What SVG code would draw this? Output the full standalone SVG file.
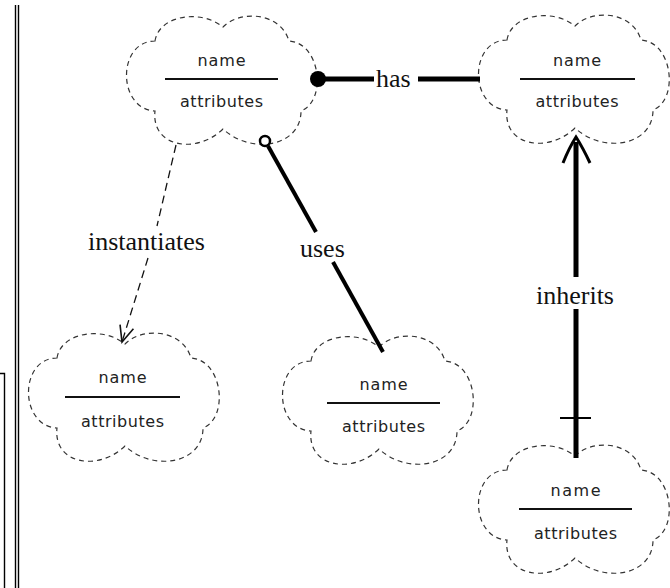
<svg xmlns="http://www.w3.org/2000/svg" width="670" height="588" viewBox="0 0 670 588">
<style>
.cloud{fill:none;stroke:#333;stroke-width:1.2;stroke-dasharray:5 4}
.sep{stroke:#111;stroke-width:1.8}
.nm{font-family:"DejaVu Sans",sans-serif;font-size:16px;fill:#222;text-anchor:middle}
.lbl{font-family:"Liberation Serif",serif;font-size:26px;fill:#111}
.thick{stroke:#000;stroke-width:5;fill:none}
.med{stroke:#000;stroke-width:4;fill:none}
.dash{stroke:#111;stroke-width:1.3;stroke-dasharray:8 5;fill:none}
.frame{stroke:#000;stroke-width:1.4;fill:none}
</style>
<defs>
<path id="cloudShape" d="M-66,-40 C-62,-66 -20,-72 2,-54 C20,-72 60,-68 68,-40 C100,-38 106,20 80,30 C80,66 30,74 2,48 C-25,74 -70,66 -66,30 C-104,28 -104,-40 -66,-40 Z"/>
<marker id="openArrow" viewBox="0 0 20 20" refX="18" refY="10" markerWidth="20" markerHeight="20" markerUnits="userSpaceOnUse" orient="auto">
<path d="M2,3 L18,10 L2,17" fill="none" stroke="#111" stroke-width="1.6"/>
</marker>
</defs>
<rect width="670" height="588" fill="#fff"/>
<g id="frame">
<line class="frame" x1="15.5" y1="5" x2="15.5" y2="588"/>
<line class="frame" x1="18.5" y1="5" x2="18.5" y2="588"/>
<path class="frame" d="M0,373.5 H4.5 V588"/>
</g>
<g id="node-top-left">
<use href="#cloudShape" class="cloud" transform="translate(221,81)"/>
<text class="nm" x="221.5" y="66" textLength="48">name</text>
<line class="sep" x1="165" y1="79" x2="278" y2="79"/>
<text class="nm" x="221.5" y="107" textLength="83">attributes</text>
</g>
<g id="node-top-right">
<use href="#cloudShape" class="cloud" transform="translate(573,80)"/>
<text class="nm" x="577" y="66" textLength="48">name</text>
<line class="sep" x1="520" y1="79" x2="635" y2="79"/>
<text class="nm" x="577" y="107" textLength="83">attributes</text>
</g>
<g id="node-bottom-left">
<use href="#cloudShape" class="cloud" transform="translate(123,398)"/>
<text class="nm" x="122.5" y="383" textLength="48">name</text>
<line class="sep" x1="65" y1="397" x2="180" y2="397"/>
<text class="nm" x="122.5" y="427" textLength="83">attributes</text>
</g>
<g id="node-bottom-middle">
<use href="#cloudShape" class="cloud" transform="translate(377,401)"/>
<text class="nm" x="383.5" y="390" textLength="48">name</text>
<line class="sep" x1="327" y1="403" x2="440" y2="403"/>
<text class="nm" x="383.5" y="432" textLength="83">attributes</text>
</g>
<g id="node-bottom-right">
<use href="#cloudShape" class="cloud" transform="translate(573,510)"/>
<text class="nm" x="575.5" y="496" textLength="50">name</text>
<line class="sep" x1="519" y1="509" x2="632" y2="509"/>
<text class="nm" x="575.5" y="539" textLength="83">attributes</text>
</g>
<g id="connectors">
<!-- has -->
<circle cx="318" cy="79" r="8" fill="#000"/>
<line class="thick" x1="318" y1="79" x2="374" y2="79"/>
<line class="thick" x1="418" y1="79" x2="480" y2="79"/>
<text class="lbl" x="376" y="87">has</text>
<!-- uses -->
<circle cx="265" cy="141" r="5" fill="#fff" stroke="#000" stroke-width="2.5"/>
<line class="med" x1="268" y1="146" x2="316" y2="232"/>
<line class="med" x1="333" y1="262" x2="383" y2="352"/>
<text class="lbl" x="300" y="257">uses</text>
<!-- instantiates -->
<line class="dash" x1="176" y1="145" x2="157" y2="226"/>
<line class="dash" x1="148" y1="258" x2="122" y2="342" marker-end="url(#openArrow)"/>
<text class="lbl" x="88" y="250">instantiates</text>
<!-- inherits -->
<line class="thick" x1="576" y1="142" x2="576" y2="277"/>
<line class="thick" x1="576" y1="309" x2="576" y2="458"/>
<line stroke="#000" stroke-width="2" x1="560" y1="418" x2="591" y2="418"/>
<path d="M563,163 Q569,148 576,137 Q583,148 590,163" fill="none" stroke="#000" stroke-width="3"/>
<text class="lbl" x="536" y="304">inherits</text>
</g>
</svg>
